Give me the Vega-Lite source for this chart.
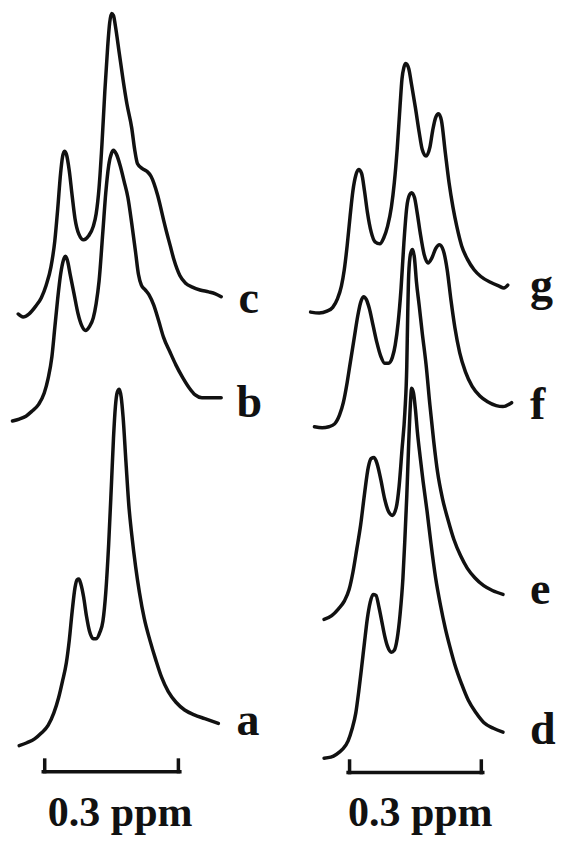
{
  "$schema": "https://vega.github.io/schema/vega-lite/v6.json",
  "autosize": {"type": "none"},
  "width": 577,
  "height": 867,
  "padding": 0,
  "background": "white",
  "config": {"view": {"stroke": null}},
  "datasets": {
    "curves": [
      {"s":"c","x":19,"y":326},{"s":"c","x":24,"y":329},{"s":"c","x":30,"y":326},{"s":"c","x":37,"y":318},{"s":"c","x":43,"y":309},{"s":"c","x":48,"y":296},{"s":"c","x":53,"y":277},{"s":"c","x":57,"y":250},{"s":"c","x":60,"y":217},{"s":"c","x":63,"y":180},{"s":"c","x":65,"y":163},{"s":"c","x":67,"y":157},{"s":"c","x":69,"y":160},{"s":"c","x":72,"y":177},{"s":"c","x":75,"y":203},{"s":"c","x":78,"y":227},{"s":"c","x":82,"y":243},{"s":"c","x":87,"y":249},{"s":"c","x":92,"y":245},{"s":"c","x":97,"y":235},{"s":"c","x":100,"y":222},{"s":"c","x":103,"y":195},{"s":"c","x":106,"y":150},{"s":"c","x":109,"y":95},{"s":"c","x":112,"y":48},{"s":"c","x":114,"y":24},{"s":"c","x":116,"y":14},{"s":"c","x":118,"y":16},{"s":"c","x":120,"y":27},{"s":"c","x":124,"y":55},{"s":"c","x":128,"y":83},{"s":"c","x":132,"y":108},{"s":"c","x":137,"y":133},{"s":"c","x":140,"y":155},{"s":"c","x":143,"y":170},{"s":"c","x":148,"y":175},{"s":"c","x":153,"y":178},{"s":"c","x":157,"y":183},{"s":"c","x":160,"y":190},{"s":"c","x":164,"y":203},{"s":"c","x":167,"y":215},{"s":"c","x":170,"y":228},{"s":"c","x":173,"y":240},{"s":"c","x":177,"y":255},{"s":"c","x":181,"y":270},{"s":"c","x":187,"y":286},{"s":"c","x":193,"y":294},{"s":"c","x":200,"y":298},{"s":"c","x":208,"y":301},{"s":"c","x":217,"y":303},{"s":"c","x":224,"y":305},{"s":"c","x":230,"y":308},
      {"s":"b","x":13,"y":437},{"s":"b","x":20,"y":435},{"s":"b","x":27,"y":432},{"s":"b","x":33,"y":427},{"s":"b","x":40,"y":420},{"s":"b","x":46,"y":408},{"s":"b","x":50,"y":393},{"s":"b","x":54,"y":370},{"s":"b","x":57,"y":340},{"s":"b","x":60,"y":310},{"s":"b","x":63,"y":285},{"s":"b","x":66,"y":270},{"s":"b","x":68,"y":266},{"s":"b","x":70,"y":270},{"s":"b","x":73,"y":285},{"s":"b","x":77,"y":305},{"s":"b","x":81,"y":325},{"s":"b","x":85,"y":338},{"s":"b","x":89,"y":343},{"s":"b","x":93,"y":339},{"s":"b","x":97,"y":330},{"s":"b","x":100,"y":315},{"s":"b","x":103,"y":292},{"s":"b","x":107,"y":240},{"s":"b","x":110,"y":200},{"s":"b","x":113,"y":172},{"s":"b","x":116,"y":159},{"s":"b","x":118,"y":156},{"s":"b","x":121,"y":160},{"s":"b","x":125,"y":172},{"s":"b","x":129,"y":188},{"s":"b","x":133,"y":205},{"s":"b","x":137,"y":232},{"s":"b","x":141,"y":262},{"s":"b","x":144,"y":285},{"s":"b","x":147,"y":296},{"s":"b","x":151,"y":301},{"s":"b","x":155,"y":306},{"s":"b","x":160,"y":317},{"s":"b","x":165,"y":333},{"s":"b","x":170,"y":350},{"s":"b","x":177,"y":366},{"s":"b","x":183,"y":379},{"s":"b","x":190,"y":392},{"s":"b","x":197,"y":403},{"s":"b","x":203,"y":410},{"s":"b","x":210,"y":413},{"s":"b","x":220,"y":413},{"s":"b","x":230,"y":413},
      {"s":"a","x":20,"y":774},{"s":"a","x":28,"y":771},{"s":"a","x":36,"y":767},{"s":"a","x":43,"y":761},{"s":"a","x":50,"y":753},{"s":"a","x":56,"y":740},{"s":"a","x":61,"y":724},{"s":"a","x":65,"y":707},{"s":"a","x":69,"y":688},{"s":"a","x":72,"y":665},{"s":"a","x":75,"y":635},{"s":"a","x":78,"y":610},{"s":"a","x":80,"y":602},{"s":"a","x":82,"y":601},{"s":"a","x":84,"y":606},{"s":"a","x":87,"y":620},{"s":"a","x":90,"y":640},{"s":"a","x":93,"y":655},{"s":"a","x":97,"y":663},{"s":"a","x":100,"y":663},{"s":"a","x":104,"y":656},{"s":"a","x":107,"y":645},{"s":"a","x":110,"y":615},{"s":"a","x":113,"y":565},{"s":"a","x":116,"y":500},{"s":"a","x":118,"y":455},{"s":"a","x":120,"y":422},{"s":"a","x":122,"y":407},{"s":"a","x":124,"y":404},{"s":"a","x":126,"y":412},{"s":"a","x":128,"y":433},{"s":"a","x":131,"y":480},{"s":"a","x":134,"y":525},{"s":"a","x":137,"y":555},{"s":"a","x":141,"y":588},{"s":"a","x":145,"y":615},{"s":"a","x":150,"y":642},{"s":"a","x":156,"y":665},{"s":"a","x":162,"y":685},{"s":"a","x":168,"y":703},{"s":"a","x":175,"y":718},{"s":"a","x":183,"y":729},{"s":"a","x":192,"y":737},{"s":"a","x":202,"y":742},{"s":"a","x":213,"y":746},{"s":"a","x":227,"y":751},
      {"s":"g","x":323,"y":324},{"s":"g","x":332,"y":325},{"s":"g","x":340,"y":323},{"s":"g","x":346,"y":319},{"s":"g","x":351,"y":310},{"s":"g","x":355,"y":297},{"s":"g","x":358,"y":280},{"s":"g","x":361,"y":255},{"s":"g","x":364,"y":225},{"s":"g","x":367,"y":198},{"s":"g","x":370,"y":182},{"s":"g","x":373,"y":176},{"s":"g","x":376,"y":180},{"s":"g","x":379,"y":198},{"s":"g","x":382,"y":220},{"s":"g","x":386,"y":241},{"s":"g","x":390,"y":251},{"s":"g","x":395,"y":253},{"s":"g","x":399,"y":247},{"s":"g","x":403,"y":235},{"s":"g","x":407,"y":215},{"s":"g","x":410,"y":190},{"s":"g","x":413,"y":155},{"s":"g","x":416,"y":110},{"s":"g","x":418,"y":82},{"s":"g","x":420,"y":70},{"s":"g","x":422,"y":66},{"s":"g","x":425,"y":71},{"s":"g","x":428,"y":88},{"s":"g","x":432,"y":112},{"s":"g","x":436,"y":138},{"s":"g","x":439,"y":155},{"s":"g","x":443,"y":162},{"s":"g","x":447,"y":153},{"s":"g","x":450,"y":135},{"s":"g","x":453,"y":122},{"s":"g","x":456,"y":118},{"s":"g","x":459,"y":125},{"s":"g","x":463,"y":158},{"s":"g","x":467,"y":190},{"s":"g","x":471,"y":215},{"s":"g","x":475,"y":235},{"s":"g","x":480,"y":255},{"s":"g","x":486,"y":269},{"s":"g","x":493,"y":280},{"s":"g","x":500,"y":287},{"s":"g","x":510,"y":293},{"s":"g","x":519,"y":297},{"s":"g","x":524,"y":299},{"s":"g","x":528,"y":296},
      {"s":"f","x":327,"y":443},{"s":"f","x":335,"y":444},{"s":"f","x":342,"y":443},{"s":"f","x":348,"y":440},{"s":"f","x":353,"y":431},{"s":"f","x":357,"y":418},{"s":"f","x":361,"y":397},{"s":"f","x":364,"y":378},{"s":"f","x":368,"y":353},{"s":"f","x":372,"y":328},{"s":"f","x":375,"y":314},{"s":"f","x":378,"y":308},{"s":"f","x":381,"y":311},{"s":"f","x":384,"y":320},{"s":"f","x":388,"y":338},{"s":"f","x":392,"y":356},{"s":"f","x":396,"y":370},{"s":"f","x":400,"y":377},{"s":"f","x":404,"y":377},{"s":"f","x":408,"y":371},{"s":"f","x":411,"y":358},{"s":"f","x":414,"y":335},{"s":"f","x":417,"y":300},{"s":"f","x":420,"y":252},{"s":"f","x":423,"y":215},{"s":"f","x":426,"y":202},{"s":"f","x":428,"y":200},{"s":"f","x":431,"y":205},{"s":"f","x":434,"y":222},{"s":"f","x":437,"y":242},{"s":"f","x":441,"y":264},{"s":"f","x":445,"y":273},{"s":"f","x":449,"y":268},{"s":"f","x":453,"y":258},{"s":"f","x":457,"y":254},{"s":"f","x":461,"y":260},{"s":"f","x":465,"y":280},{"s":"f","x":469,"y":312},{"s":"f","x":473,"y":340},{"s":"f","x":478,"y":366},{"s":"f","x":484,"y":386},{"s":"f","x":491,"y":401},{"s":"f","x":499,"y":411},{"s":"f","x":507,"y":417},{"s":"f","x":516,"y":421},{"s":"f","x":523,"y":422},{"s":"f","x":532,"y":418},
      {"s":"e","x":337,"y":643},{"s":"e","x":345,"y":639},{"s":"e","x":352,"y":632},{"s":"e","x":358,"y":624},{"s":"e","x":363,"y":612},{"s":"e","x":367,"y":594},{"s":"e","x":371,"y":570},{"s":"e","x":375,"y":545},{"s":"e","x":379,"y":513},{"s":"e","x":383,"y":485},{"s":"e","x":386,"y":476},{"s":"e","x":389,"y":475},{"s":"e","x":392,"y":481},{"s":"e","x":396,"y":498},{"s":"e","x":400,"y":518},{"s":"e","x":404,"y":531},{"s":"e","x":408,"y":535},{"s":"e","x":412,"y":527},{"s":"e","x":415,"y":505},{"s":"e","x":418,"y":467},{"s":"e","x":421,"y":428},{"s":"e","x":423,"y":380},{"s":"e","x":424,"y":325},{"s":"e","x":425,"y":285},{"s":"e","x":427,"y":263},{"s":"e","x":429,"y":259},{"s":"e","x":431,"y":268},{"s":"e","x":433,"y":292},{"s":"e","x":436,"y":318},{"s":"e","x":439,"y":345},{"s":"e","x":443,"y":378},{"s":"e","x":447,"y":420},{"s":"e","x":451,"y":458},{"s":"e","x":455,"y":490},{"s":"e","x":460,"y":517},{"s":"e","x":466,"y":540},{"s":"e","x":472,"y":560},{"s":"e","x":479,"y":577},{"s":"e","x":486,"y":590},{"s":"e","x":494,"y":600},{"s":"e","x":503,"y":608},{"s":"e","x":512,"y":613},{"s":"e","x":523,"y":617},
      {"s":"d","x":337,"y":787},{"s":"d","x":344,"y":786},{"s":"d","x":350,"y":783},{"s":"d","x":356,"y":778},{"s":"d","x":362,"y":769},{"s":"d","x":366,"y":757},{"s":"d","x":370,"y":740},{"s":"d","x":373,"y":718},{"s":"d","x":376,"y":693},{"s":"d","x":379,"y":667},{"s":"d","x":382,"y":642},{"s":"d","x":385,"y":625},{"s":"d","x":388,"y":617},{"s":"d","x":391,"y":618},{"s":"d","x":394,"y":630},{"s":"d","x":397,"y":645},{"s":"d","x":400,"y":660},{"s":"d","x":403,"y":671},{"s":"d","x":407,"y":677},{"s":"d","x":410,"y":675},{"s":"d","x":413,"y":663},{"s":"d","x":416,"y":638},{"s":"d","x":419,"y":600},{"s":"d","x":421,"y":560},{"s":"d","x":423,"y":515},{"s":"d","x":425,"y":460},{"s":"d","x":427,"y":415},{"s":"d","x":428,"y":403},{"s":"d","x":430,"y":408},{"s":"d","x":432,"y":425},{"s":"d","x":434,"y":448},{"s":"d","x":437,"y":475},{"s":"d","x":440,"y":500},{"s":"d","x":444,"y":530},{"s":"d","x":448,"y":563},{"s":"d","x":453,"y":600},{"s":"d","x":458,"y":628},{"s":"d","x":463,"y":652},{"s":"d","x":468,"y":672},{"s":"d","x":473,"y":690},{"s":"d","x":480,"y":710},{"s":"d","x":487,"y":727},{"s":"d","x":495,"y":740},{"s":"d","x":503,"y":750},{"s":"d","x":513,"y":756},{"s":"d","x":523,"y":760}
    ],
    "labels": [
      {"t":"c","x":248,"y":325},
      {"t":"b","x":246,"y":433},
      {"t":"a","x":246,"y":763},
      {"t":"g","x":551,"y":311},
      {"t":"f","x":551,"y":435},
      {"t":"e","x":551,"y":627},
      {"t":"d","x":551,"y":772}
    ],
    "bars": [
      {"x":45,"y":801,"x2":187,"y2":801},
      {"x":46.5,"y":789,"x2":46.5,"y2":801},
      {"x":185.5,"y":789,"x2":185.5,"y2":801},
      {"x":362,"y":802,"x2":502,"y2":802},
      {"x":363.5,"y":790,"x2":363.5,"y2":802},
      {"x":500.5,"y":790,"x2":500.5,"y2":802}
    ],
    "captions": [
      {"t":"0.3 ppm","x":125,"y":857},
      {"t":"0.3 ppm","x":437,"y":857}
    ]
  },
  "layer": [
    {
      "data": {"name": "curves"},
      "mark": {"type": "line", "stroke": "#111111", "strokeWidth": 3.5, "interpolate": "monotone", "strokeJoin": "round", "strokeCap": "round"},
      "encoding": {
        "x": {"field": "x", "type": "quantitative", "scale": {"domain": [0, 577]}, "axis": null},
        "y": {"field": "y", "type": "quantitative", "scale": {"domain": [0, 867], "reverse": true}, "axis": null},
        "detail": {"field": "s"}
      }
    },
    {
      "data": {"name": "bars"},
      "mark": {"type": "rule", "stroke": "#111111", "strokeWidth": 3.5, "strokeCap": "square"},
      "encoding": {
        "x": {"field": "x", "type": "quantitative"},
        "y": {"field": "y", "type": "quantitative"},
        "x2": {"field": "x2"},
        "y2": {"field": "y2"}
      }
    },
    {
      "data": {"name": "labels"},
      "mark": {"type": "text", "font": "Liberation Serif", "fontWeight": "bold", "fontSize": 46, "align": "left", "baseline": "alphabetic", "fill": "#111111"},
      "encoding": {
        "x": {"field": "x", "type": "quantitative"},
        "y": {"field": "y", "type": "quantitative"},
        "text": {"field": "t"}
      }
    },
    {
      "data": {"name": "captions"},
      "mark": {"type": "text", "font": "Liberation Serif", "fontWeight": "bold", "fontSize": 42, "align": "center", "baseline": "alphabetic", "fill": "#111111"},
      "encoding": {
        "x": {"field": "x", "type": "quantitative"},
        "y": {"field": "y", "type": "quantitative"},
        "text": {"field": "t"}
      }
    }
  ]
}
